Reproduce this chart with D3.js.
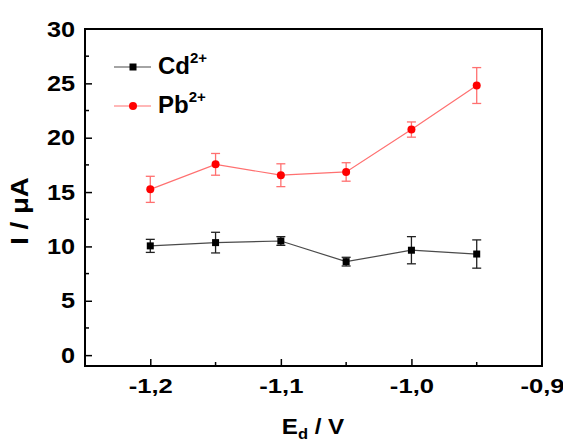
<!DOCTYPE html>
<html>
<head>
<meta charset="utf-8">
<script src="https://cdn.jsdelivr.net/npm/d3@7"></script>
<style>
  body { margin: 0; background: #fff; }
  text { font-family: Arial, "Liberation Sans", sans-serif; font-weight: bold; }
</style>
</head>
<body>
<svg id="chart" width="563" height="440"></svg>
<script>
// deposition potential (V)
var potentials = [-1.2, -1.15, -1.1, -1.05, -1.0, -0.95];

// Cd2+ current and error
var cd_values = [10.05, 10.35, 10.5, 8.6, 9.65, 9.3];
var cd_errors = [0.6, 0.95, 0.4, 0.4, 1.25, 1.3];

// Pb2+ current and error
var pb_values = [15.25, 17.55, 16.55, 16.85, 20.75, 24.8];
var pb_errors = [1.2, 1.0, 1.05, 0.85, 0.7, 1.65];

var x_ticks = [-1.2, -1.1, -1.0, -0.9];
var x_tick_labels = ['-1,2', '-1,1', '-1,0', '-0,9'];
var y_ticks = [0, 5, 10, 15, 20, 25, 30];

var svg = d3.select('#chart');

var margin = {left: 85, right: 542, top: 29, bottom: 366};

var x_scale = d3.scaleLinear().domain([-1.25, -0.9]).range([margin.left, margin.right]);
var y_scale = d3.scaleLinear().domain([-1, 30]).range([margin.bottom, margin.top]);

// axes
////////////////////////////////////////////
var x_axis = d3.axisBottom(x_scale)
  .tickValues(x_ticks)
  .tickSize(-7)
  .tickPadding(12.5)
  .tickFormat(function(d, i) { return x_tick_labels[i]; });

var gx = svg.append('g')
  .attr('transform', 'translate(0,' + margin.bottom + ')')
  .call(x_axis);

var y_axis = d3.axisLeft(y_scale)
  .tickValues(y_ticks)
  .tickSize(-7)
  .tickPadding(10);

var gy = svg.append('g')
  .attr('transform', 'translate(' + margin.left + ',0)')
  .call(y_axis);

// minor ticks
gx.selectAll('.minor')
  .data([-1.15, -1.05, -0.95])
  .enter().append('line')
  .attr('x1', function(d) { return x_scale(d); })
  .attr('x2', function(d) { return x_scale(d); })
  .attr('y1', 0).attr('y2', -4)
  .attr('stroke', '#000').attr('stroke-width', 1.5);

gy.selectAll('.minor')
  .data([2.5, 7.5, 12.5, 17.5, 22.5, 27.5])
  .enter().append('line')
  .attr('y1', function(d) { return y_scale(d); })
  .attr('y2', function(d) { return y_scale(d); })
  .attr('x1', 0).attr('x2', 4)
  .attr('stroke', '#000').attr('stroke-width', 1.5);

[gx, gy].forEach(function(g) {
  g.select('.domain').remove();
  g.selectAll('.tick line').attr('stroke', '#000').attr('stroke-width', 1.5);
  g.selectAll('.tick text')
    .attr('fill', '#000')
    .style('font-family', 'Arial, "Liberation Sans", sans-serif')
    .style('font-weight', 'bold');
});

// the labels in the original are a bit wider than Arial, stretch them
gy.selectAll('.tick text')
  .style('font-size', '22px')
  .attr('x', -10 / 1.15)
  .attr('transform', 'scale(1.15,1)');

gx.selectAll('.tick text')
  .style('font-size', '21px')
  .attr('transform', 'scale(1.22,1)');

gx.selectAll('.tick line').filter(function(d) { return d === -0.9; }).remove();
gy.selectAll('.tick line').filter(function(d) { return d === 30; }).remove();

// frame
svg.append('rect')
  .attr('x', margin.left)
  .attr('y', margin.top)
  .attr('width', margin.right - margin.left)
  .attr('height', margin.bottom - margin.top)
  .attr('fill', 'none')
  .attr('stroke', '#000')
  .attr('stroke-width', 2);

// series
////////////////////////////////////////////
function make_data(values, errors) {
  return potentials.map(function(p, i) {
    return {x: p, y: values[i], e: errors[i]};
  });
}

var series = [
  {name: 'Cd', data: make_data(cd_values, cd_errors), line: '#4a4a4a', err: '#222', marker: '#000', shape: 'square'},
  {name: 'Pb', data: make_data(pb_values, pb_errors), line: '#ff7070', err: '#ff7070', marker: '#ff0000', shape: 'circle'}
];

var line_gen = d3.line()
  .x(function(d) { return x_scale(d.x); })
  .y(function(d) { return y_scale(d.y); });

series.forEach(function(s) {
  var g = svg.append('g').attr('class', 'series_' + s.name);

  g.append('path')
    .datum(s.data)
    .attr('d', line_gen)
    .attr('fill', 'none')
    .attr('stroke', s.line)
    .attr('stroke-width', 1.2);

  // error bars
  var eb = g.selectAll('.err').data(s.data).enter().append('g').attr('class', 'err');
  eb.append('line')
    .attr('x1', function(d) { return x_scale(d.x); })
    .attr('x2', function(d) { return x_scale(d.x); })
    .attr('y1', function(d) { return y_scale(d.y - d.e); })
    .attr('y2', function(d) { return y_scale(d.y + d.e); })
    .attr('stroke', s.err).attr('stroke-width', 1.3);
  [-1, 1].forEach(function(sign) {
    eb.append('line')
      .attr('x1', function(d) { return x_scale(d.x) - 4.5; })
      .attr('x2', function(d) { return x_scale(d.x) + 4.5; })
      .attr('y1', function(d) { return y_scale(d.y + sign * d.e); })
      .attr('y2', function(d) { return y_scale(d.y + sign * d.e); })
      .attr('stroke', s.err).attr('stroke-width', 1.3);
  });

  // markers
  if (s.shape === 'square') {
    g.selectAll('.marker').data(s.data).enter().append('rect')
      .attr('x', function(d) { return x_scale(d.x) - 3.5; })
      .attr('y', function(d) { return y_scale(d.y) - 3.5; })
      .attr('width', 7).attr('height', 7)
      .attr('fill', s.marker);
  } else {
    g.selectAll('.marker').data(s.data).enter().append('circle')
      .attr('cx', function(d) { return x_scale(d.x); })
      .attr('cy', function(d) { return y_scale(d.y); })
      .attr('r', 4)
      .attr('fill', s.marker);
  }
});

// legend
////////////////////////////////////////////
var legend = svg.append('g');
series.forEach(function(s, i) {
  var ly = 67 + i * 39;
  legend.append('line')
    .attr('x1', 114).attr('x2', 151)
    .attr('y1', ly).attr('y2', ly)
    .attr('stroke', s.line).attr('stroke-width', 1.2);
  if (s.shape === 'square') {
    legend.append('rect').attr('x', 129.5).attr('y', ly - 3.5).attr('width', 7).attr('height', 7).attr('fill', s.marker);
  } else {
    legend.append('circle').attr('cx', 133).attr('cy', ly).attr('r', 4).attr('fill', s.marker);
  }
  var t = legend.append('text')
    .attr('x', 158).attr('y', ly + 6.5)
    .style('font-size', '24px');
  t.append('tspan').text(s.name);
  t.append('tspan').attr('dy', -11).style('font-size', '15px').text('2+');
});

// axis titles
svg.append('text')
  .attr('transform', 'translate(28,211) rotate(-90) scale(1.15,1)')
  .attr('text-anchor', 'middle')
  .style('font-size', '24px')
  .text('I / μA');

var xt = svg.append('text')
  .attr('transform', 'translate(313,434) scale(1.1,1)')
  .attr('text-anchor', 'middle')
  .style('font-size', '22px');
xt.append('tspan').text('E');
xt.append('tspan').attr('dy', 5).style('font-size', '15px').text('d');
xt.append('tspan').attr('dy', -5).text(' / V');
</script>
</body>
</html>
